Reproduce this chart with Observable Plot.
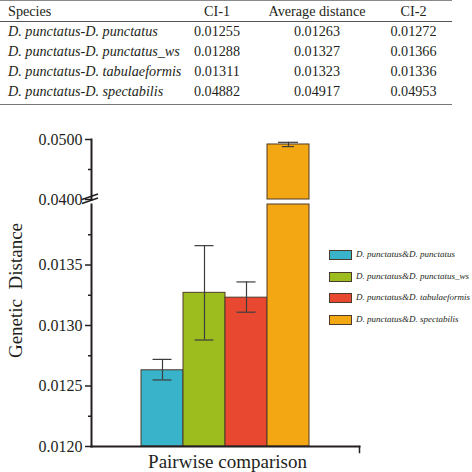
<!DOCTYPE html>
<html>
<head>
<meta charset="utf-8">
<script src="https://cdn.jsdelivr.net/npm/d3@7"></script>
<script src="https://cdn.jsdelivr.net/npm/@observablehq/plot@0.6"></script>
<style>
  html, body { margin: 0; padding: 0; background: #fff; }
  #wrap { position: relative; width: 472px; height: 472px; overflow: hidden; font-family: "Liberation Serif", "DejaVu Serif", serif; color: #231f20; }
  #tbl { position: absolute; left: 0; top: 0; width: 452px; border-collapse: collapse; font-size: 14.2px; table-layout: fixed; font-family: "Liberation Serif", "DejaVu Serif", serif; }
  #tbl th, #tbl td { box-sizing: border-box; white-space: nowrap; overflow: visible; }
  #tbl th { font-weight: normal; height: 21px; padding: 0; border-top: 1px solid #8a8a8a; border-bottom: 1px solid #555; }
  #tbl td { height: 20px; padding: 0; }
  #tbl tr:last-child td { height: 23px; border-bottom: 1px solid #777; vertical-align: top; padding-top: 1px; }
  #tbl .sp { text-align: left; padding-left: 8px; }
  #tbl td.sp { font-style: italic; }
  #tbl .num { text-align: center; }
  .panel { position: absolute; left: 0; }
  svg text { white-space: pre; }
  #legend { position: absolute; left: 329px; top: 250px; font-style: italic; font-size: 9px; }
  .lrow { position: absolute; left: 0; height: 10px; white-space: nowrap; }
  .sw { position: absolute; left: 0; top: 0; width: 21px; height: 8px; border: 1px solid #4e3a2a; }
  .lt { position: absolute; left: 27px; top: -2px; line-height: 12px; }
</style>
</head>
<body>
<div id="wrap">
  <table id="tbl"></table>
  <div id="toppanel" class="panel" style="top:120px"></div>
  <div id="bottompanel" class="panel" style="top:204px"></div>
  <div id="legend"></div>
</div>
<script>
// ---- data ----
const species = [
  "D. punctatus-D. punctatus",
  "D. punctatus-D. punctatus_ws",
  "D. punctatus-D. tabulaeformis",
  "D. punctatus-D. spectabilis"
];
const legendLabels = [
  "D. punctatus&D. punctatus",
  "D. punctatus&D. punctatus_ws",
  "D. punctatus&D. tabulaeformis",
  "D. punctatus&D. spectabilis"
];
const ci1 = [0.01255, 0.01288, 0.01311, 0.04882];
const avgDist = [0.01263, 0.01327, 0.01323, 0.04917];
const ci2 = [0.01272, 0.01366, 0.01336, 0.04953];
const colors = ["#38b3c9", "#9dbd1e", "#e8482f", "#f3a712"];
const tableHeaders = ["Species", "CI-1", "Average distance", "CI-2"];
const lowDomain = [0.0120, 0.0140];
const highDomain = [0.0400, 0.0500];
const lowMajorTicks = [0.0120, 0.0125, 0.0130, 0.0135];
const lowMinorTicks = [0.01225, 0.01275, 0.01325, 0.01375];
const highMajorTicks = [0.0400, 0.0500];
const highMinorTicks = [0.0450];
const xLabel = "Pairwise comparison";
const yLabel = "Genetic  Distance";

(function () {
const data = species.map((s, i) => ({species: s, ci1: ci1[i], avg: avgDist[i], ci2: ci2[i]}));

// ---- table ----
const colW = [175, 84, 116, 77];
const tbl = d3.select("#tbl");
const hr = tbl.append("thead").append("tr");
tableHeaders.forEach((h, i) => hr.append("th").attr("class", i === 0 ? "sp" : "num").style("width", colW[i] + "px").text(h));
const tb = tbl.append("tbody");
data.forEach(d => {
  const tr = tb.append("tr");
  tr.append("td").attr("class", "sp").text(d.species);
  tr.append("td").attr("class", "num").text(d.ci1.toFixed(5));
  tr.append("td").attr("class", "num").text(d.avg.toFixed(5));
  tr.append("td").attr("class", "num").text(d.ci2.toFixed(5));
});

// ---- chart ----
const ink = "#231f20";
const barStroke = "#4e3a2a";
const errColor = "#3d3d3d";
const fmt = d3.format(".4f");
const xScale = {type: "band", domain: species, paddingInner: 0, paddingOuter: 1.13, axis: null};
const colorScale = {domain: species, range: colors};
const common = {width: 472, marginLeft: 91, marginRight: 113, style: {fontFamily: "'Liberation Serif', 'DejaVu Serif', serif", fontSize: "16px", color: ink, background: "transparent", overflow: "visible"}};

function breakMark(index, scales, values, dim) {
  const g = d3.create("svg:g").attr("stroke", ink).attr("stroke-width", 1.4);
  const x0 = dim.marginLeft;
  const yb = dim.height - dim.marginBottom;
  g.append("line").attr("x1", x0 - 9).attr("y1", yb + 0.5).attr("x2", x0 + 7).attr("y2", yb - 5);
  g.append("line").attr("x1", x0 - 9).attr("y1", yb + 4.5).attr("x2", x0 + 7).attr("y2", yb - 1);
  return g.node();
}

const upper = d => d.avg > highDomain[0];

const topPlot = Plot.plot({
  ...common,
  height: 85, marginTop: 19, marginBottom: 6,
  x: xScale,
  y: {domain: highDomain},
  color: colorScale,
  marks: [
    Plot.barY(data, {filter: upper, x: "species", y1: highDomain[0], y2: "avg", fill: "species", stroke: barStroke, strokeWidth: 1}),
    Plot.ruleX(data, {filter: upper, x: "species", y1: "ci1", y2: "ci2", stroke: errColor, strokeWidth: 1.2}),
    Plot.tickY(data, {filter: upper, x: "species", y: "ci1", stroke: errColor, strokeWidth: 1.2, insetLeft: 15, insetRight: 15}),
    Plot.tickY(data, {filter: upper, x: "species", y: "ci2", stroke: errColor, strokeWidth: 1.2, insetLeft: 11, insetRight: 11}),
    Plot.axisY({ticks: highMajorTicks, tickSize: 6, tickPadding: 3, tickFormat: fmt, label: null, stroke: ink, strokeWidth: 1.5, fill: ink}),
    Plot.axisY({ticks: highMinorTicks, tickSize: 3, tickFormat: () => "", label: null, stroke: ink, strokeWidth: 1.5}),
    Plot.frame({anchor: "left", stroke: ink, strokeWidth: 2}),
    breakMark
  ]
});
document.getElementById("toppanel").appendChild(topPlot);

const bottomPlot = Plot.plot({
  ...common,
  height: 268, marginTop: 0, marginBottom: 26,
  x: xScale,
  y: {domain: lowDomain},
  color: colorScale,
  marks: [
    Plot.barY(data, {x: "species", y1: lowDomain[0], y2: d => Math.min(d.avg, lowDomain[1]), fill: "species", stroke: barStroke, strokeWidth: 1}),
    Plot.ruleX(data, {filter: d => d.ci2 < lowDomain[1], x: "species", y1: "ci1", y2: "ci2", stroke: errColor, strokeWidth: 1.2}),
    Plot.tickY(data, {filter: d => d.ci2 < lowDomain[1], x: "species", y: "ci1", stroke: errColor, strokeWidth: 1.2, insetLeft: 11.5, insetRight: 11.5}),
    Plot.tickY(data, {filter: d => d.ci2 < lowDomain[1], x: "species", y: "ci2", stroke: errColor, strokeWidth: 1.2, insetLeft: 11.5, insetRight: 11.5}),
    Plot.axisY({ticks: lowMajorTicks, tickSize: 6, tickPadding: 3, tickFormat: fmt, label: null, stroke: ink, strokeWidth: 1.5, fill: ink}),
    Plot.axisY({ticks: lowMinorTicks, tickSize: 3, tickFormat: () => "", label: null, stroke: ink, strokeWidth: 1.5}),
    Plot.frame({anchor: "left", stroke: ink, strokeWidth: 2}),
    Plot.frame({anchor: "bottom", stroke: ink, strokeWidth: 2}),
    Plot.frame({anchor: "right", stroke: ink, strokeWidth: 1.5, insetTop: 242, insetBottom: -6}),
    Plot.text([xLabel], {frameAnchor: "bottom", dx: 2, dy: 15, fontSize: 19, fill: ink, lineAnchor: "middle"}),
    Plot.text([yLabel], {frameAnchor: "left", dx: -76, dy: -35, rotate: -90, textAnchor: "middle", lineAnchor: "middle", fontSize: 19, fill: ink})
  ]
});
document.getElementById("bottompanel").appendChild(bottomPlot);

// ---- legend ----
const lg = d3.select("#legend");
legendLabels.forEach((lab, i) => {
  const row = lg.append("div").attr("class", "lrow").style("top", (i * 21.7) + "px");
  row.append("div").attr("class", "sw").style("background", colors[i]);
  row.append("div").attr("class", "lt").text(lab);
});
})();
</script>
</body>
</html>
